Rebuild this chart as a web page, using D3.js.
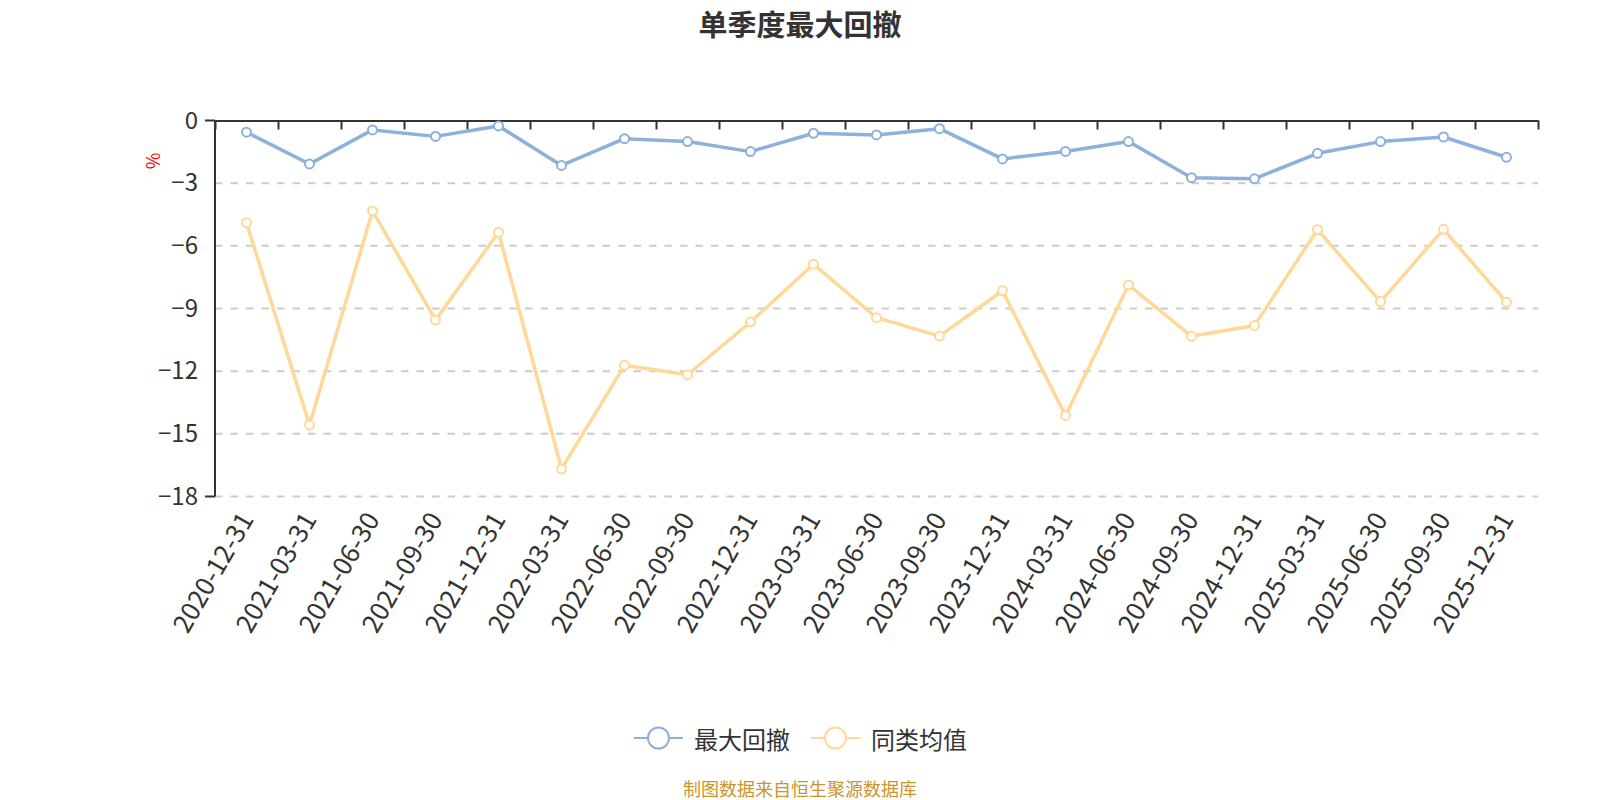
<!DOCTYPE html>
<html>
<head>
<meta charset="utf-8">
<script src="https://cdn.jsdelivr.net/npm/d3@7"></script>
<style>
  html, body { margin: 0; padding: 0; background: #fff; }
  svg text { font-family: "Noto Sans CJK SC", "Noto Sans", sans-serif; }
</style>
</head>
<body>
<div id="root"></div>
<script>
'use strict';

const dates = ['2020-12-31', '2021-03-31', '2021-06-30', '2021-09-30', '2021-12-31',
               '2022-03-31', '2022-06-30', '2022-09-30', '2022-12-31', '2023-03-31',
               '2023-06-30', '2023-09-30', '2023-12-31', '2024-03-31', '2024-06-30',
               '2024-09-30', '2024-12-31', '2025-03-31', '2025-06-30', '2025-09-30',
               '2025-12-31'];
const maxDrawdown = [-0.56, -2.08, -0.45, -0.76, -0.26, -2.15, -0.87, -1.01, -1.49, -0.61,
                     -0.69, -0.39, -1.84, -1.48, -1.01, -2.74, -2.79, -1.57, -1.01, -0.79,
                     -1.76];
const peerAverage = [-4.89, -14.58, -4.33, -9.55, -5.35, -16.68, -11.72, -12.17, -9.65, -6.88,
                     -9.44, -10.32, -8.15, -14.13, -7.87, -10.33, -9.81, -5.23, -8.67, -5.21,
                     -8.70];
const yTicks = [0, -3, -6, -9, -12, -15, -18];
const seriesNames = ['最大回撤', '同类均值'];

const Root = document.querySelector('#root');

function draw() {
  const w = 1600,
        h = 800,
        left = 215,
        right = 1538,
        top = 120.5,
        bottom = 496.5,
        colors = ['#8eb0dd', '#ffd898'],

        svg = d3.select(Root)
                .append('svg')
                .attr('width', w)
                .attr('height', h),

        xBand = d3.scaleBand()
                  .domain(dates)
                  .range([left, right]),
        xIdx = d3.scaleLinear()
                 .domain([0, dates.length])
                 .range([left, right]),
        yScale = d3.scaleLinear()
                   .domain([-18, 0])
                   .range([bottom, top]),
        cx = (d) => xBand(d) + xBand.bandwidth() / 2;

  // title
  svg.append('text')
     .attr('x', 800)
     .attr('y', 23)
     .attr('text-anchor', 'middle')
     .attr('dominant-baseline', 'central')
     .attr('font-size', 29)
     .attr('font-weight', 'bold')
     .attr('fill', '#333')
     .text('单季度最大回撤');

  // grid lines
  svg.append('g')
     .selectAll('line')
     .data(yTicks.filter((t) => t !== 0))
     .enter()
     .append('line')
     .attr('x1', left)
     .attr('x2', right)
     .attr('y1', (d) => yScale(d))
     .attr('y2', (d) => yScale(d))
     .attr('stroke', '#ccc')
     .attr('stroke-width', 2)
     .attr('stroke-dasharray', '7.5,8');

  // y axis
  const yAxis = d3.axisLeft(yScale)
                  .tickValues(yTicks)
                  .tickSize(0)
                  .tickPadding(17);
  const gy = svg.append('g')
                .attr('transform', 'translate(' + left + ', 0)')
                .call(yAxis);
  gy.select('.domain').remove();
  gy.selectAll('text')
    .attr('font-size', 24)
    .attr('fill', '#333')
    .attr('font-family', '"Noto Sans CJK SC", "Noto Sans", sans-serif');

  svg.append('line')
     .attr('x1', left).attr('x2', left)
     .attr('y1', top).attr('y2', bottom)
     .attr('stroke', '#333')
     .attr('stroke-width', 2);

  svg.selectAll('.yend')
     .data([0, -18])
     .enter()
     .append('line')
     .attr('x1', left - 10).attr('x2', left)
     .attr('y1', (d) => yScale(d)).attr('y2', (d) => yScale(d))
     .attr('stroke', '#333')
     .attr('stroke-width', 2);

  svg.append('text')
     .attr('transform', 'translate(152,161) rotate(-90)')
     .attr('text-anchor', 'middle')
     .attr('dominant-baseline', 'central')
     .attr('font-size', 18)
     .attr('fill', '#f00')
     .text('%');

  // x axis line with ticks (at top, ticks pointing down)
  const xAxis = d3.axisBottom(xIdx)
                  .tickValues(d3.range(0, dates.length + 1))
                  .tickSize(9)
                  .tickSizeOuter(0)
                  .tickFormat('');
  const gx = svg.append('g')
                .attr('transform', 'translate(0, ' + top + ')')
                .call(xAxis);
  gx.select('.domain').attr('stroke', '#333').attr('stroke-width', 2);
  gx.selectAll('.tick line').attr('stroke', '#333').attr('stroke-width', 2);

  // x labels
  svg.append('g')
     .selectAll('text')
     .data(dates)
     .enter()
     .append('text')
     .attr('transform', (d) => 'translate(' + (cx(d) - 2) + ',' + (bottom + 17) + ') rotate(-60)')
     .attr('text-anchor', 'end')
     .attr('dominant-baseline', 'central')
     .attr('font-size', 26)
     .attr('fill', '#333')
     .text((d) => d);

  // lines
  const series = [maxDrawdown, peerAverage];
  const line = d3.line()
                 .x((d, i) => cx(dates[i]))
                 .y((d) => yScale(d));

  series.slice().reverse().forEach((vals, k) => {
    const j = series.length - 1 - k;
    svg.append('path')
       .datum(vals)
       .attr('d', line)
       .attr('fill', 'none')
       .attr('stroke', colors[j])
       .attr('stroke-width', 3.5)
       .attr('stroke-linejoin', 'round');

    svg.append('g')
       .selectAll('circle')
       .data(vals)
       .enter()
       .append('circle')
       .attr('cx', (d, i) => cx(dates[i]))
       .attr('cy', (d) => yScale(d))
       .attr('r', 4.5)
       .attr('fill', '#fff')
       .attr('stroke', colors[j])
       .attr('stroke-width', 2);
  });

  // legend
  const legendX = [634, 811];
  seriesNames.forEach((name, i) => {
    const g = svg.append('g')
                 .attr('transform', 'translate(' + legendX[i] + ', 738)');
    g.append('line')
     .attr('x1', 0).attr('x2', 49)
     .attr('y1', 0).attr('y2', 0)
     .attr('stroke', colors[i])
     .attr('stroke-width', 2);
    g.append('circle')
     .attr('cx', 24.5)
     .attr('cy', 0)
     .attr('r', 10.5)
     .attr('fill', '#fff')
     .attr('stroke', colors[i])
     .attr('stroke-width', 2);
    g.append('text')
     .attr('x', 60)
     .attr('y', 0)
     .attr('dominant-baseline', 'central')
     .attr('font-size', 24)
     .attr('fill', '#333')
     .text(name);
  });

  // source
  svg.append('text')
     .attr('x', 800)
     .attr('y', 788)
     .attr('text-anchor', 'middle')
     .attr('dominant-baseline', 'central')
     .attr('font-size', 18)
     .attr('fill', '#c9952c')
     .text('制图数据来自恒生聚源数据库');
}

draw();
</script>
</body>
</html>
